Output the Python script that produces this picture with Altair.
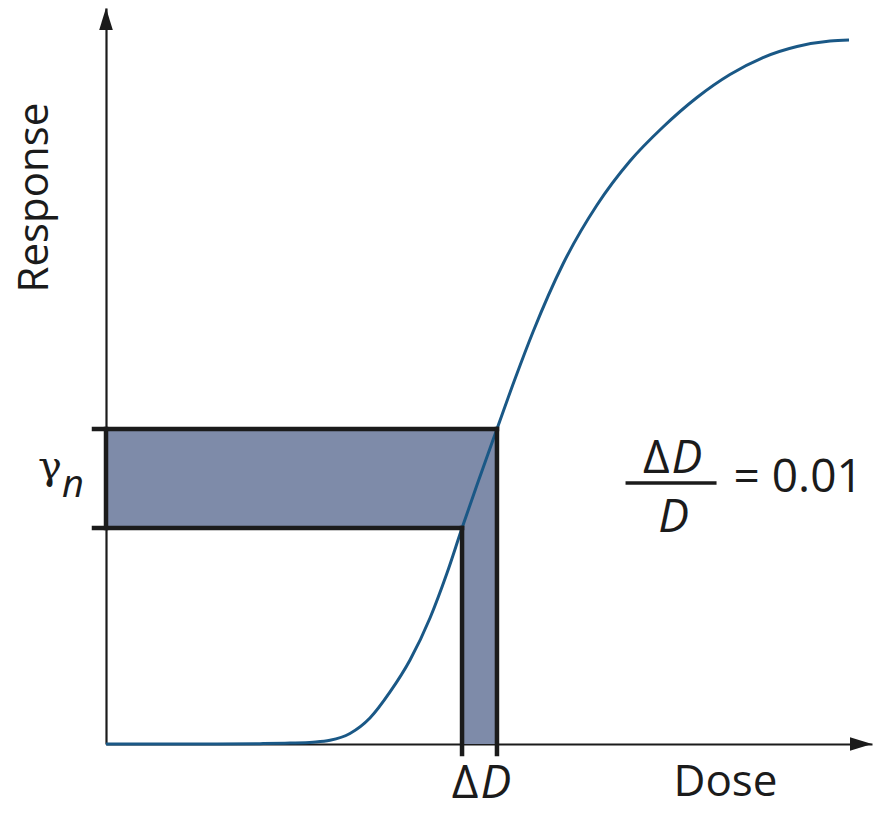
import altair as alt
import pandas as pd

# Dose-response curve (dose in arbitrary units, response as a fraction of the axis)
dose = [0.0, 1.227, 2.010, 2.402, 2.702, 2.924, 3.185, 3.446, 3.708, 3.969,
        4.230, 4.452, 4.648, 4.843, 5.104, 5.339, 5.574, 5.966, 6.410, 6.841,
        7.272, 7.715, 8.146, 8.577, 9.021, 9.452, 9.700]
response = [0.0, 0.0, 0.0005, 0.0012, 0.0024, 0.0050, 0.0143, 0.0353, 0.0707, 0.1141,
            0.1712, 0.2323, 0.2935, 0.3519, 0.4280, 0.4959, 0.5598, 0.6522, 0.7323, 0.7921,
            0.8383, 0.8784, 0.9096, 0.9327, 0.9477, 0.9552, 0.9565]

# Dose step [D - ΔD, D] and the response step γn it produces
dose_step = [4.648, 5.104]
response_step = [0.2935, 0.4280]
axis_max = [10.0, 1.0]
ratio_text = "= 0.01"
# where the ΔD/D ratio is written (dose, response)
ratio_anchor = [7.37, 0.3546]

FONT = "Open Sans"
GREEK = "DejaVu Serif"
INK = "#1b1b1b"
CURVE = "#1a5886"
FILL = "#7e8ba9"

D0, D1 = dose_step
R0, R1 = response_step

x_scale = alt.Scale(domain=[0, axis_max[0]], nice=False, zero=False)
y_scale = alt.Scale(domain=[0, axis_max[1]], nice=False, zero=False)

common_axis = dict(domain=True, domainColor=INK, domainWidth=2.2, ticks=False,
                   labels=False, grid=False, titleFont=FONT, titleFontWeight="normal",
                   titleColor=INK, titleAlign="center", titleBaseline="alphabetic")
x_axis = alt.Axis(title="Dose", titleFontSize=44, titleX=619, titleY=51,
                  titleAngle=0, **common_axis)
y_axis = alt.Axis(title="Response", titleFontSize=42, titleX=-59, titleY=189,
                  titleAngle=270, **common_axis)


def X(field="dose"):
    return alt.X(f"{field}:Q", scale=x_scale, axis=x_axis)


def Y(field="response"):
    return alt.Y(f"{field}:Q", scale=y_scale, axis=y_axis)


curve_df = pd.DataFrame({"dose": dose, "response": response})

# shaded L-shaped region: response band and dose band
bands_df = pd.DataFrame({
    "dose": [0, D0], "dose2": [D1, D1],
    "response": [R0, 0], "response2": [R1, R0],
})
bands = alt.Chart(bands_df).mark_rect(fill=FILL, strokeWidth=0).encode(
    x=X(), x2="dose2:Q", y=Y(), y2="response2:Q")

# thick outlines with ticks that poke past the axes
hz_df = pd.DataFrame({"dose": [0, 0], "dose2": [D1, D0], "response": [R1, R0]})
hz_rules = alt.Chart(hz_df).mark_rule(
    color=INK, strokeWidth=4.5, strokeCap="square", xOffset=-12
).encode(x=X(), x2="dose2:Q", y=Y())

vt_df = pd.DataFrame({"dose": [D1, D0], "response": [R1, R0], "response2": [0, 0]})
vt_rules = alt.Chart(vt_df).mark_rule(
    color=INK, strokeWidth=4.5, strokeCap="square", y2Offset=10
).encode(x=X(), y=Y(), y2="response2:Q")

left_df = pd.DataFrame({"dose": [0], "response": [R0], "response2": [R1]})
left_rule = alt.Chart(left_df).mark_rule(
    color=INK, strokeWidth=4.5, strokeCap="square"
).encode(x=X(), y=Y(), y2="response2:Q")

curve = alt.Chart(curve_df).mark_line(
    color=CURVE, strokeWidth=3, interpolate="monotone"
).encode(x=X(), y=Y())

# arrowheads at the ends of both axes
up_df = pd.DataFrame({"dose": [0], "response": [axis_max[1]]})
up_arrow = alt.Chart(up_df).mark_point(
    shape="M0,0L-0.62,2L0.62,2Z", size=484, filled=True, fill=INK,
    strokeWidth=0, opacity=1
).encode(x=X(), y=Y())

right_df = pd.DataFrame({"dose": [axis_max[0]], "response": [0]})
right_arrow = alt.Chart(right_df).mark_point(
    shape="M0,0L-2,-0.62L-2,0.62Z", size=484, filled=True, fill=INK,
    strokeWidth=0, opacity=1
).encode(x=X(), y=Y())


def label(text, d, r, size=46, italic=False, font=FONT, **kw):
    df = pd.DataFrame({"dose": [d], "response": [r]})
    style = {"fontStyle": "italic"} if italic else {}
    return alt.Chart(df).mark_text(
        text=text, font=font, fontSize=size, color=INK, baseline="alphabetic", **style, **kw
    ).encode(x=X(), y=Y())


mid_dose = (D0 + D1) / 2
mid_resp = (R0 + R1) / 2
ax, ay = ratio_anchor

texts = [
    # ΔD under the dose axis
    label("Δ", mid_dose, 0, align="right", dx=-1, dy=54),
    label("D", mid_dose, 0, italic=True, align="left", dx=1, dy=54),
    # γn beside the response axis
    label("γ", 0, mid_resp, size=40, font=GREEK, align="right", dx=-44, dy=1),
    label("n", 0, mid_resp, size=38, italic=True, align="left", dx=-44, dy=19),
    # ΔD / D = 0.01
    label("Δ", ax, ay, align="right", dx=-1, dy=-10),
    label("D", ax, ay, italic=True, align="left", dx=1, dy=-10),
    label("D", ax, ay, italic=True, align="center", dx=3, dy=49),
    label(ratio_text, ax, ay, size=46, align="left", dx=63, dy=9),
]

frac_df = pd.DataFrame({"dose": [ax], "dose2": [ax], "response": [ay]})
frac_bar = alt.Chart(frac_df).mark_rule(
    color=INK, strokeWidth=3.5, xOffset=-45, x2Offset=46
).encode(x=X(), x2="dose2:Q", y=Y())

chart = alt.layer(
    bands, curve, hz_rules, vt_rules, left_rule, up_arrow, right_arrow, frac_bar, *texts
).properties(
    width=766, height=736,
    padding={"left": 106, "top": 8, "right": 4, "bottom": 85},
    autosize=alt.AutoSizeParams(type="none"),
).configure_view(stroke="transparent")

chart.save("out.html", embed_options={"renderer": "svg", "actions": False})
